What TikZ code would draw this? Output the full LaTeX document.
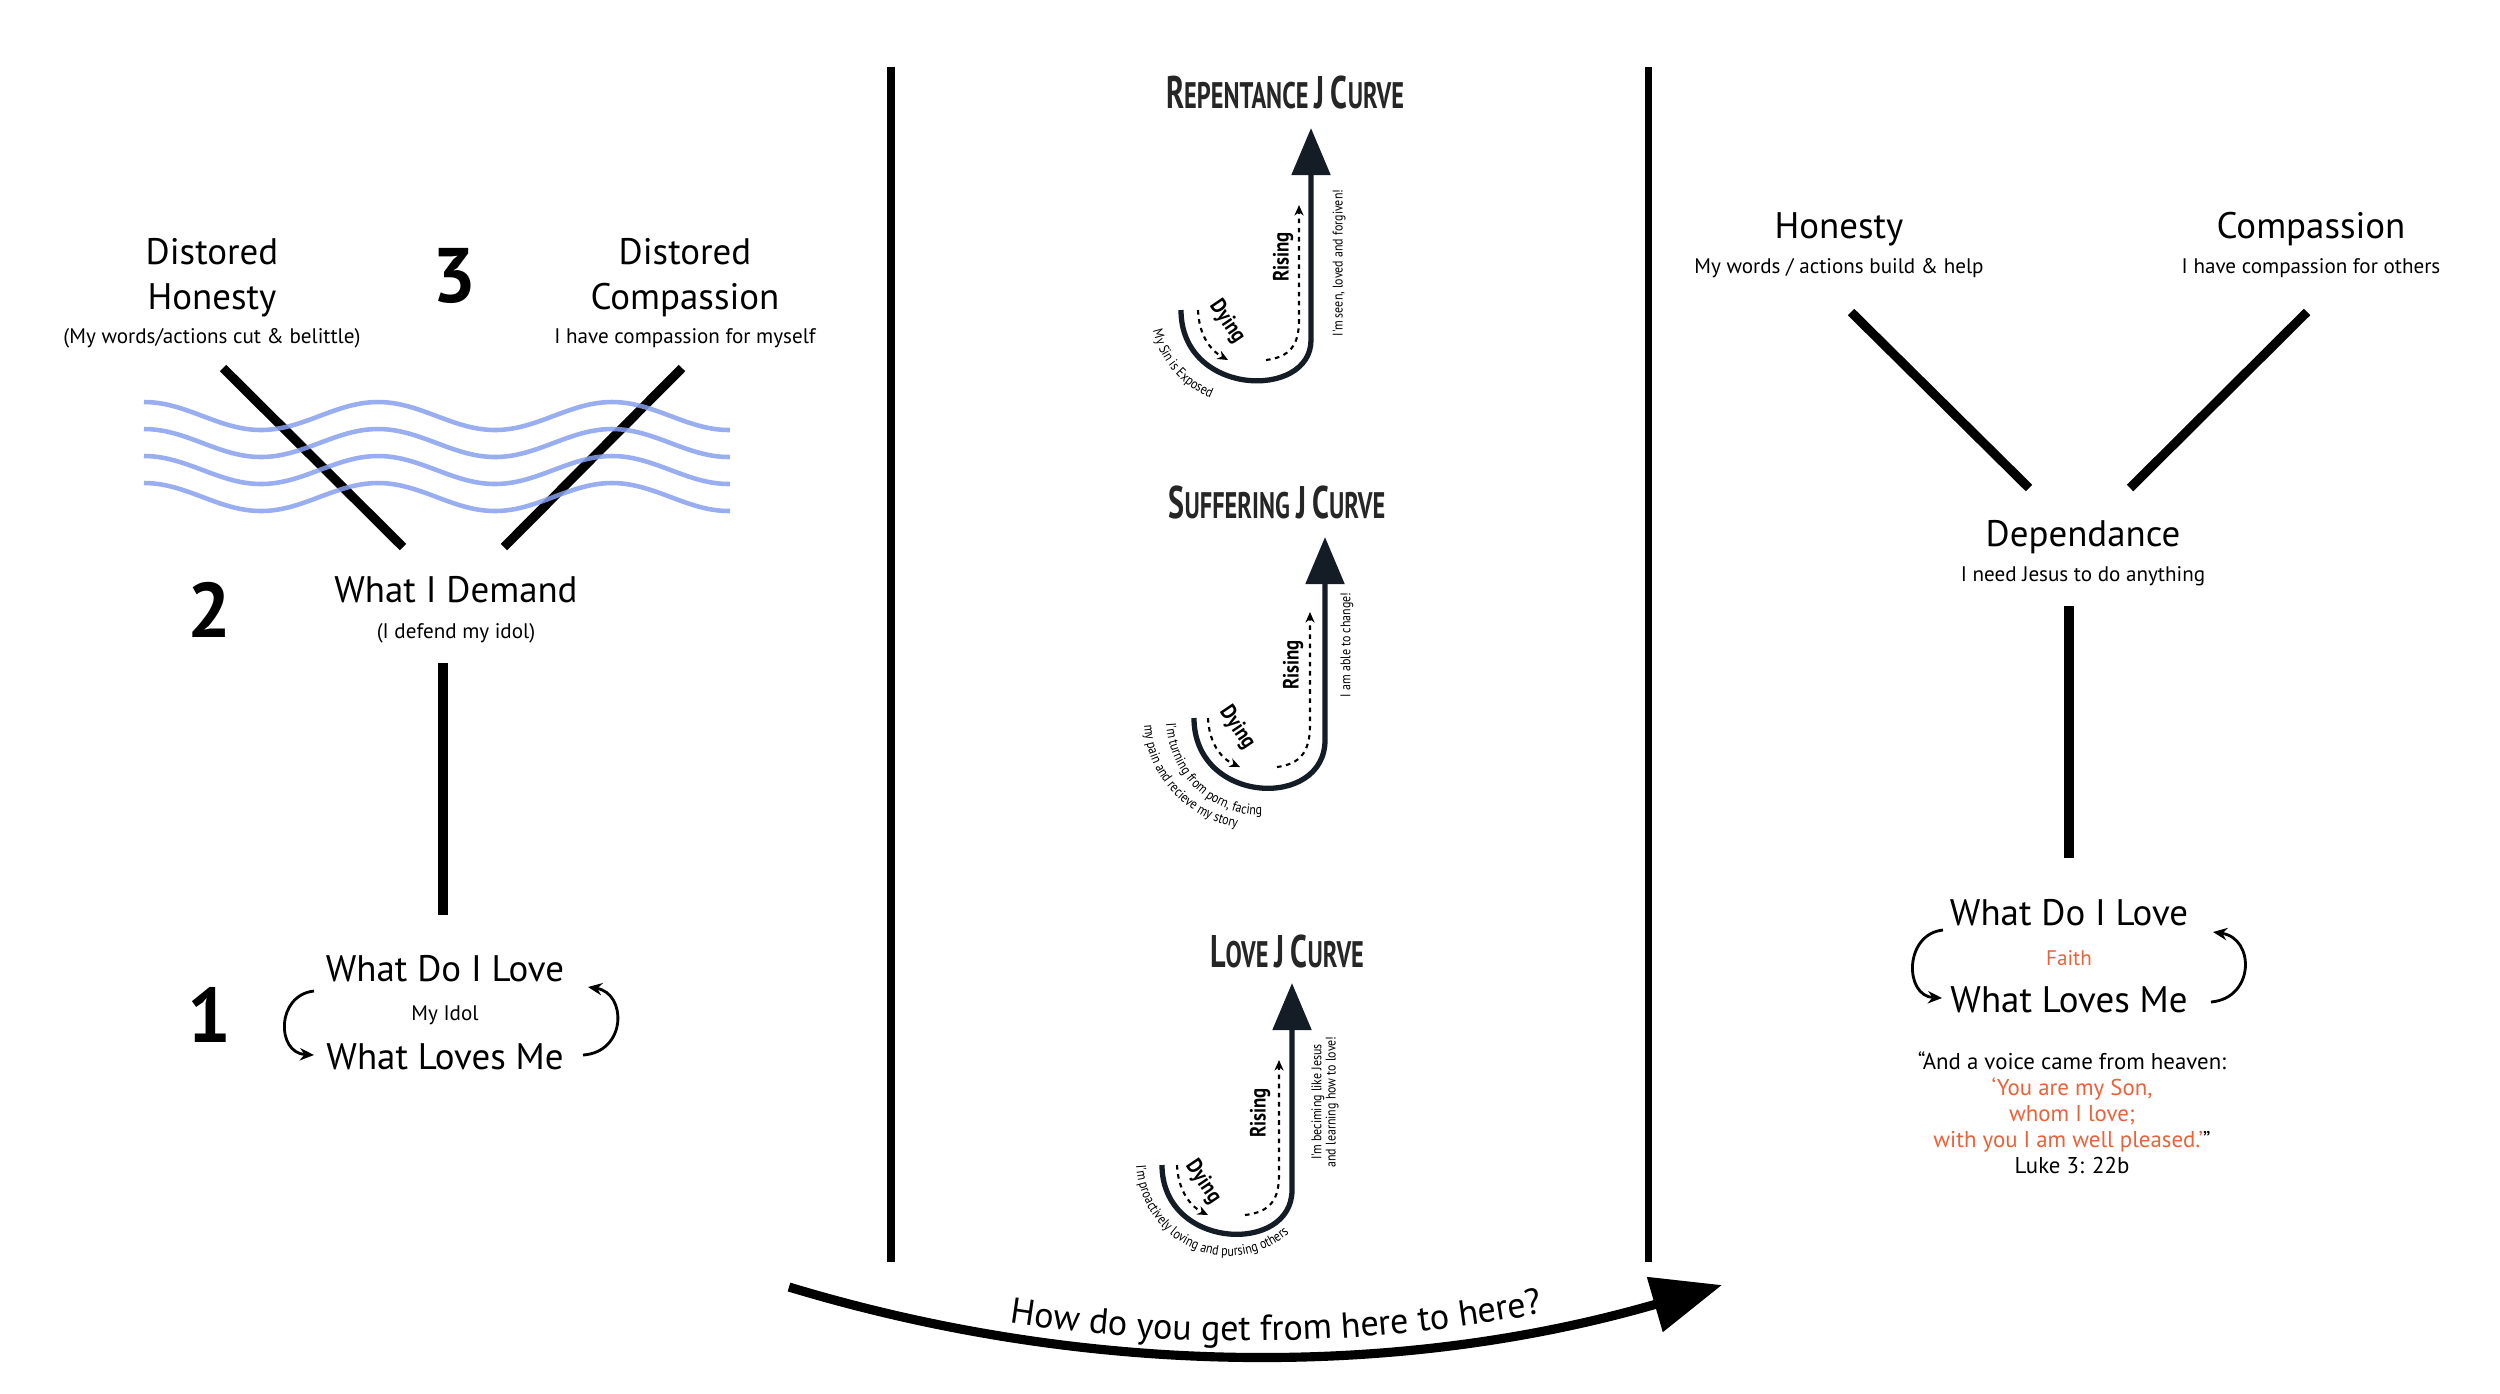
\documentclass[tikz,border=0pt]{standalone}
\usepackage{fontspec}
\setmainfont{PT Sans}
\newfontfamily\condfont[FakeStretch=0.85]{PT Sans}
\newfontfamily\titlefont[FakeStretch=0.66]{PT Sans}
\usetikzlibrary{arrows.meta,decorations.text}
\definecolor{wavecol}{RGB}{135,160,238}
\definecolor{jnavy}{RGB}{20,28,38}
\definecolor{faithorange}{RGB}{232,98,58}
\newcommand\fsz[1]{\fontsize{#1}{#1}\selectfont}
\newcommand\capfirst[1]{{\fsz{13}#1}}
\begin{document}
\begin{tikzpicture}[>=Stealth,
  bar/.style={line width=2.6pt},
  divider/.style={line width=2pt},
  wave/.style={wavecol, line width=1.3pt, opacity=0.85},
  big/.style={font=\fsz{10.5}},
  sub/.style={font=\fsz{6}},
  num/.style={font=\bfseries\fsz{22}},
  loopar/.style={line width=0.8pt, -{Stealth[length=4pt,width=3.5pt]}},
  jline/.style={jnavy, line width=1.5pt, -{Triangle[length=0.47cm,width=0.38cm]}},
  dots/.style={line width=0.6pt, dash pattern=on 1.3pt off 1.3pt, -{Stealth[length=3pt,width=2.6pt]}},
  jtag/.style={font=\condfont\bfseries\fsz{6.3}, inner sep=0pt},
  jnote/.style={font=\condfont\fsz{4}, inner sep=0pt},
  jtitle/.style={font=\titlefont\bfseries\fsz{10.5}, text=black!85},
  curvetext/.style={decorate, decoration={text along path, text={|\condfont\fsz{4}|#1}, text align={left indent=0.05cm}}},
]
\useasboundingbox (0,0) rectangle (25,-13.93);

% Left: distorted
\node[big] (dh1) at (2.12,-2.52) {Distored};
\node[big] (dh2) at (2.12,-3.00) {Honesty};
\node[sub] (dh3) at (2.12,-3.38) {(My words/actions cut \& belittle)};
\node[num] (n3) at (4.54,-2.76) {3};
\node[big] (dc1) at (6.85,-2.52) {Distored};
\node[big] (dc2) at (6.85,-3.00) {Compassion};
\node[sub] (dc3) at (6.85,-3.38) {I have compassion for myself};
\coordinate (lh-a) at (2.23,-3.68); \coordinate (lh-b) at (4.03,-5.47);
\coordinate (rh-a) at (6.82,-3.68); \coordinate (rh-b) at (5.04,-5.47);
\draw[bar] (lh-a) -- (lh-b);
\draw[bar] (rh-a) -- (rh-b);
\foreach \yy in {4.16,4.43,4.70,4.97}
  \draw[wave] plot[domain=1.44:7.30, samples=90, smooth] (\x,{-\yy+0.14*cos(360*(\x-1.44)/2.34)});

\node[num] (n2) at (2.09,-6.10) {2};
\node[big] (dem) at (4.56,-5.90) {What I Demand};
\node[sub] (demsub) at (4.56,-6.33) {(I defend my idol)};
\coordinate (stem1-a) at (4.43,-6.63); \coordinate (stem1-b) at (4.43,-9.15);
\draw[bar] (stem1-a) -- (stem1-b);

\node[num] (n1) at (2.09,-10.15) {1};
\node[big] (love1) at (4.45,-9.69) {What Do I Love};
\node[sub] (idol) at (4.45,-10.15) {My Idol};
\node[big] (loves1) at (4.45,-10.57) {What Loves Me};
\coordinate (l1a) at (3.14,-9.91); \coordinate (l1b) at (3.14,-10.55);
\coordinate (r1a) at (5.83,-10.55); \coordinate (r1b) at (5.88,-9.87);
\draw[loopar] (l1a) .. controls (2.76,-9.95) and (2.76,-10.53) .. (l1b);
\draw[loopar] (r1a) .. controls (6.27,-10.52) and (6.27,-9.93) .. (r1b);

% Dividers
\coordinate (d1-a) at (8.91,-0.67); \coordinate (d1-b) at (8.91,-12.62);
\coordinate (d2-a) at (16.48,-0.67); \coordinate (d2-b) at (16.48,-12.62);
\draw[divider] (d1-a) -- (d1-b);
\draw[divider] (d2-a) -- (d2-b);

% Repentance
\node[jtitle] (t1) at (12.85,-0.92) {\capfirst{R}EPENTANCE \capfirst{J} \capfirst{C}URVE};
\draw[jline] (11.81,-3.10) .. controls (11.81,-3.97) and (13.11,-4.00) .. (13.11,-3.40) -- (13.11,-1.28);
\draw[dots] (11.98,-3.10) .. controls (11.99,-3.35) and (12.10,-3.50) .. (12.28,-3.60);
\draw[dots] (12.66,-3.60) .. controls (12.90,-3.57) and (12.99,-3.45) .. (12.99,-3.20) -- (12.99,-2.05);
\node[jtag, rotate=-56] (dy1) at (12.27,-3.22) {Dying};
\node[jtag, rotate=90] (ri1) at (12.83,-2.57) {Rising};
\node[jnote, rotate=90] (no1) at (13.39,-2.63) {I'm seen, loved and forgiven!};
\path[curvetext={My Sin is Exposed}] (11.52,-3.26) arc[start angle=190, end angle=280, radius=0.95];

% Suffering
\node[jtitle] (t2) at (12.77,-5.02) {\capfirst{S}UFFERING \capfirst{J} \capfirst{C}URVE};
\draw[jline] (11.94,-7.18) .. controls (11.94,-8.05) and (13.25,-8.10) .. (13.25,-7.40) -- (13.25,-5.37);
\draw[dots] (12.08,-7.18) .. controls (12.09,-7.42) and (12.20,-7.58) .. (12.40,-7.67);
\draw[dots] (12.77,-7.67) .. controls (13.00,-7.64) and (13.10,-7.52) .. (13.10,-7.25) -- (13.10,-6.12);
\node[jtag, rotate=-56] (dy2) at (12.37,-7.28) {Dying};
\node[jtag, rotate=90] (ri2) at (12.93,-6.65) {Rising};
\node[jnote, rotate=90] (no2) at (13.47,-6.45) {I am able to change!};
\path[curvetext={I'm turning from porn, facing}] (11.66,-7.18) arc[start angle=180, end angle=300, x radius=0.94, y radius=0.97];
\path[curvetext={my pain and recieve my story}] (11.44,-7.20) arc[start angle=180, end angle=290, x radius=1.16, y radius=1.10];

% Love
\node[jtitle] (t3) at (12.87,-9.51) {\capfirst{L}OVE \capfirst{J} \capfirst{C}URVE};
\draw[jline] (11.62,-11.65) .. controls (11.62,-12.50) and (12.92,-12.55) .. (12.92,-11.90) -- (12.92,-9.83);
\draw[dots] (11.77,-11.65) .. controls (11.78,-11.90) and (11.90,-12.06) .. (12.08,-12.15);
\draw[dots] (12.45,-12.15) .. controls (12.70,-12.12) and (12.79,-12.00) .. (12.79,-11.75) -- (12.79,-10.60);
\node[jtag, rotate=-56] (dy3) at (12.03,-11.82) {Dying};
\node[jtag, rotate=90] (ri3) at (12.60,-11.13) {Rising};
\node[jnote, rotate=90, align=center] (no3) at (13.25,-11.02) {I'm beciming like Jesus\\and learning how to love!};
\path[curvetext={I'm proactively loving and pursing others}] (11.36,-11.60) arc[start angle=180, end angle=325, x radius=0.93, y radius=0.96];

% Bottom arrow
\coordinate (go-a) at (7.89,-12.87); \coordinate (go-b) at (17.22,-12.85);
\draw[line width=2.6pt, -{Triangle[length=0.7cm,width=0.55cm]}] (go-a) .. controls (10.90,-13.78) and (14.01,-13.78) .. (go-b);
\path[decorate, decoration={text along path, text={|\fsz{10.3}|How do you get from here to here?}, text align={left indent=2.24cm}, raise=4pt}] (go-a) .. controls (10.90,-13.78) and (14.01,-13.78) .. (go-b);

% Right: healthy
\node[big] (hon) at (18.39,-2.29) {Honesty};
\node[sub] (honsub) at (18.39,-2.68) {My words / actions build \& help};
\node[big] (comp) at (23.11,-2.29) {Compassion};
\node[sub] (compsub) at (23.11,-2.68) {I have compassion for others};
\coordinate (lg-a) at (18.51,-3.12); \coordinate (lg-b) at (20.29,-4.88);
\coordinate (rg-a) at (23.07,-3.12); \coordinate (rg-b) at (21.30,-4.88);
\draw[bar] (lg-a) -- (lg-b);
\draw[bar] (rg-a) -- (rg-b);
\node[big] (dep) at (20.83,-5.37) {Dependance};
\node[sub] (depsub) at (20.83,-5.76) {I need Jesus to do anything};
\coordinate (stem2-a) at (20.69,-6.06); \coordinate (stem2-b) at (20.69,-8.58);
\draw[bar] (stem2-a) -- (stem2-b);
\node[big] (love2) at (20.69,-9.13) {What Do I Love};
\node[sub, text=faithorange] (faith) at (20.69,-9.58) {Faith};
\node[big] (loves2) at (20.69,-10.00) {What Loves Me};
\coordinate (l2a) at (19.43,-9.30); \coordinate (l2b) at (19.42,-9.98);
\coordinate (r2a) at (22.11,-10.02); \coordinate (r2b) at (22.13,-9.32);
\draw[loopar] (l2a) .. controls (19.04,-9.34) and (19.04,-9.96) .. (l2b);
\draw[loopar] (r2a) .. controls (22.55,-9.98) and (22.55,-9.38) .. (r2b);
\node[align=center, font=\fsz{6.5}, inner sep=0pt] (quote) at (20.72,-11.13)
  {“And a voice came from heaven:\\[0.9pt]
   \textcolor{faithorange}{‘You are my Son,}\\[0.9pt]
   \textcolor{faithorange}{whom I love;}\\[0.9pt]
   \textcolor{faithorange}{with you I am well pleased.’}”\\[0.9pt]
   Luke 3: 22b};
\end{tikzpicture}
\end{document}
